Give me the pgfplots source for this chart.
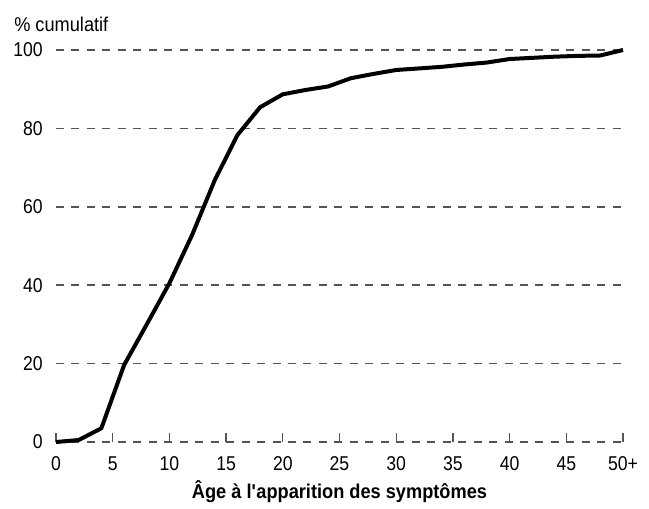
\documentclass[border=0pt]{standalone}
\usepackage{fontspec}
\setmainfont{Liberation Sans}[FakeStretch=0.91]
\newfontfamily\digitfont{Liberation Sans}[FakeStretch=0.88]
\usepackage{pgfplots}
\pgfplotsset{compat=1.18}
\definecolor{gridgray}{RGB}{85,85,85}

\begin{document}
\fontsize{15}{18}\selectfont
\begin{tikzpicture}
\begin{axis}[
    scale only axis,
    width=425.25pt,
    height=294pt,
    xmin=0, xmax=50,
    ymin=0, ymax=100,
    clip=false,
    axis line style={draw=none},
    xtick={0,5,10,15,20,25,30,35,40,45,50},
    xticklabels={0,5,10,15,20,25,30,35,40,45,50+},
    ytick={0,20,40,60,80,100},
    xtick pos=left,
    ytick pos=left,
    tick align=inside,
    major tick length=6.75pt,
    x tick style={draw=gridgray, line width=1pt},
    y tick style={draw=none},
    ymajorgrids,
    grid style={draw=gridgray, line width=1.1pt, dash pattern=on 6pt off 5.6pt},
    /pgf/number format/assume math mode=true,
    tick label style={font=\digitfont},
    yticklabel style={xshift=-4.75pt},
    xticklabel style={yshift=-6pt},
]
\addplot[black, line width=3pt, line join=round] coordinates {
    (0,0) (2,0.5) (4,3.5) (6,19.6) (8,30) (10,40.5) (12,52.8) (14,66.8)
    (16,78.3) (18,85.4) (20,88.7) (22,89.8) (24,90.7) (26,92.8) (28,93.9)
    (30,94.9) (32,95.3) (34,95.7) (36,96.3) (38,96.8) (40,97.7) (42,98.0)
    (44,98.3) (46,98.5) (48,98.6) (50,100)
};
\node[anchor=base west, inner sep=0pt, xshift=-31.5pt, yshift=13.9pt] at (rel axis cs:0,1) {\% cumulatif};
\node[anchor=base, yshift=-42pt, font=\bfseries] at (rel axis cs:0.5,0) {Âge à l\textquotesingle apparition des symptômes};
\coordinate (ll) at (rel axis cs:0,0);
\coordinate (ur) at (rel axis cs:1,1);
\end{axis}
% page margins as in the reference
\path (ll) ++(-42pt,-49.5pt) coordinate (a) (ur) ++(19.5pt,37.5pt) coordinate (b);
\pgfresetboundingbox
\path (a) rectangle (b);
\end{tikzpicture}
\end{document}
